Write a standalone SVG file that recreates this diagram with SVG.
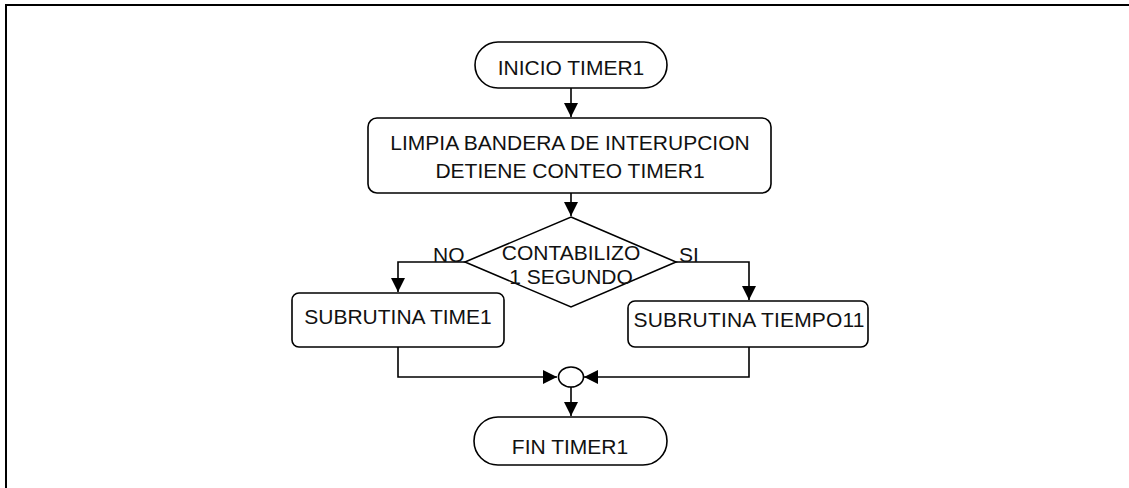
<svg xmlns="http://www.w3.org/2000/svg" width="1129" height="488" viewBox="0 0 1129 488">
<defs>
<style>
.s{fill:#fff;stroke:#000;stroke-width:1.6}
.c{fill:none;stroke:#000;stroke-width:1.6}
text{font-family:"Liberation Sans",Arial,sans-serif;font-size:21px;fill:#111}
.m{text-anchor:middle}
</style>
<marker id="a" markerUnits="userSpaceOnUse" markerWidth="15" markerHeight="15" refX="14" refY="7" orient="auto">
<path d="M0,0 L14,7 L0,14 z" fill="#000"/>
</marker>
</defs>
<rect width="1129" height="488" fill="#fff"/>
<g id="frame"><path d="M6,488 V5 H1129" fill="none" stroke="#000" stroke-width="2"/></g>
<g id="connectors">
<path class="c" d="M571,88 V117" marker-end="url(#a)"/>
<path class="c" d="M571,193 V216" marker-end="url(#a)"/>
<path class="c" d="M465,262 H398 V292" marker-end="url(#a)"/>
<path class="c" d="M676,262 H749 V300" marker-end="url(#a)"/>
<path class="c" d="M398,347 V377 H557" marker-end="url(#a)"/>
<path class="c" d="M749,347 V377 H584" marker-end="url(#a)"/>
<path class="c" d="M571,387 V416" marker-end="url(#a)"/>
<text x="433" y="262">NO</text>
<text x="679" y="262">SI</text>
</g>
<g id="start"><rect class="s" x="475" y="42" width="192" height="46" rx="23"/><text class="m" x="571" y="75">INICIO TIMER1</text></g>
<g id="process"><rect class="s" x="368" y="118" width="403" height="75" rx="9"/><text class="m" x="570" y="150">LIMPIA BANDERA DE INTERUPCION</text><text class="m" x="570" y="178">DETIENE CONTEO TIMER1</text></g>
<g id="decision"><path class="s" d="M571,217 L676,262 L571,307 L465,262 Z"/><text class="m" x="571" y="260">CONTABILIZO</text><text class="m" x="571" y="284">1 SEGUNDO</text></g>
<g id="sub1"><rect class="s" x="292" y="293" width="212" height="54" rx="7"/><text class="m" x="398" y="324">SUBRUTINA TIME1</text></g>
<g id="sub2"><rect class="s" x="628" y="301" width="240" height="46" rx="7"/><text class="m" x="749" y="327" textLength="231">SUBRUTINA TIEMPO11</text></g>
<g id="merge"><ellipse class="s" cx="571" cy="377" rx="12.5" ry="10"/></g>
<g id="end"><rect class="s" x="474" y="417" width="193" height="48" rx="24"/><text class="m" x="570" y="454">FIN TIMER1</text></g>
</svg>
